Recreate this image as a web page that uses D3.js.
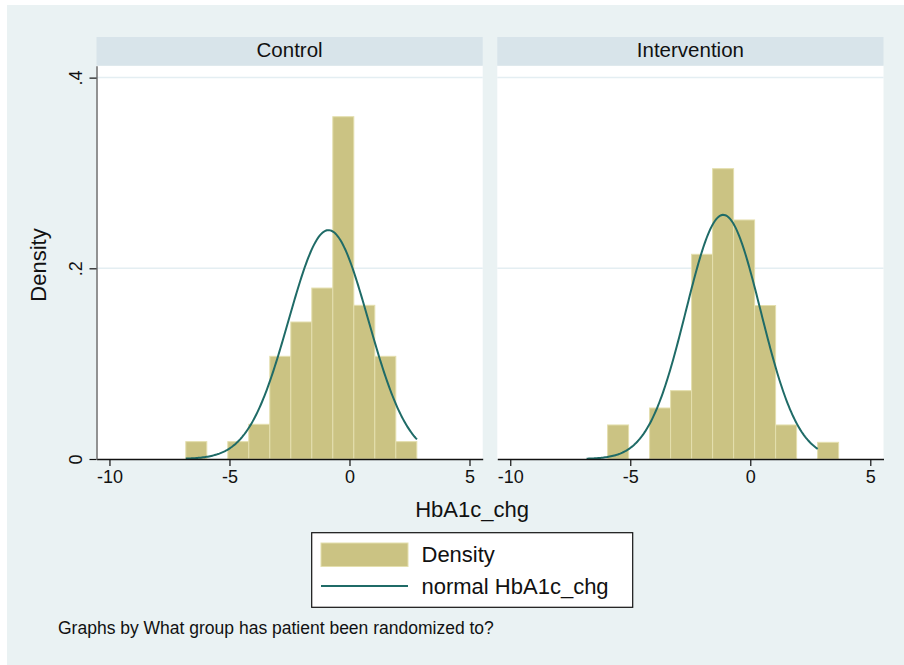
<!DOCTYPE html>
<html>
<head>
<meta charset="utf-8">
<script src="https://cdn.jsdelivr.net/npm/d3@7"></script>
<style>
  body { margin: 0; padding: 0; background: #ffffff; }
  svg { display: block; font-family: "Liberation Sans", Arial, Helvetica, sans-serif; }
</style>
</head>
<body>
<svg id="chart" width="904" height="665"></svg>
<script>
// ---- Data ----
const categories = ["Control", "Intervention"];
const binEdges = [-6.820, -5.945, -5.070, -4.195, -3.320, -2.445, -1.570, -0.695, 0.180, 1.055, 1.930, 2.805, 3.680];
const controlDensity      = [0.0182, 0, 0.0182, 0.0364, 0.1077, 0.1437, 0.1793, 0.3590, 0.1612, 0.1077, 0.0182, 0];
const interventionDensity = [0, 0.0357, 0, 0.0535, 0.0717, 0.2147, 0.3045, 0.2507, 0.1610, 0.0357, 0, 0.0175];
const normalMean = [-0.875, -1.125];
const normalSD   = [1.662, 1.558];
const curveRange = [-6.82, 2.81];
const xTicks = [-10, -5, 0, 5];
const yTicks = [0, 0.2, 0.4];
const yTickLabels = ["0", ".2", ".4"];
const legendLabels = ["Density", "normal HbA1c_chg"];
const xTitle = "HbA1c_chg";
const yTitle = "Density";
const note = "Graphs by What group has patient been randomized to?";

const densities = [controlDensity, interventionDensity];

// ---- Style / layout ----
const bgColor = "#eaf2f3";
const stripColor = "#d8e4ea";
const barFill = "#cbc383";
const barStroke = "#e4dfae";
const lineColor = "#1f6b67";
const gridColor = "#e4eef2";

const svg = d3.select("#chart");
svg.append("rect").attr("x", 7).attr("y", 5).attr("width", 897).attr("height", 660).attr("fill", bgColor);

const panelLeft = [96.5, 497.3];
const panelW = 386.2;
const plotTop = 65.7;
const plotBottom = 459;
const stripTop = 37;

const x = d3.scaleLinear().domain([-10.54, 5.55]).range([0, panelW]);
const y = d3.scaleLinear().domain([0, 0.4125]).range([plotBottom - plotTop, 0]);

const normalPdf = (v, m, s) => Math.exp(-0.5 * ((v - m) / s) ** 2) / (s * Math.sqrt(2 * Math.PI));

categories.forEach((cat, i) => {
  const g = svg.append("g").attr("transform", `translate(${panelLeft[i]},${plotTop})`);
  // strip
  svg.append("rect").attr("x", panelLeft[i]).attr("y", stripTop).attr("width", panelW)
     .attr("height", plotTop - stripTop).attr("fill", stripColor);
  svg.append("text").attr("x", panelLeft[i] + panelW / 2).attr("y", 57)
     .attr("text-anchor", "middle").attr("font-size", 20.5).attr("fill", "#111").text(cat);
  // plot area
  g.append("rect").attr("x", 0).attr("y", 0).attr("width", panelW).attr("height", plotBottom - plotTop).attr("fill", "#ffffff");
  // gridlines
  g.selectAll(".grid").data(yTicks.filter(t => t > 0)).enter().append("line")
    .attr("x1", 0).attr("x2", panelW).attr("y1", d => y(d)).attr("y2", d => y(d))
    .attr("stroke", gridColor).attr("stroke-width", 1.5);
  // bars
  const bins = densities[i].map((d, k) => ({ x0: binEdges[k], x1: binEdges[k + 1], d }));
  g.selectAll(".bar").data(bins.filter(b => b.d > 0)).enter().append("rect")
    .attr("x", b => x(b.x0)).attr("width", b => x(b.x1) - x(b.x0))
    .attr("y", b => y(b.d)).attr("height", b => y(0) - y(b.d))
    .attr("fill", barFill).attr("stroke", barStroke).attr("stroke-width", 1);
  // normal curve
  const pts = d3.range(0, 201).map(k => {
    const v = curveRange[0] + (curveRange[1] - curveRange[0]) * k / 200;
    return [v, normalPdf(v, normalMean[i], normalSD[i])];
  });
  g.append("path").datum(pts)
    .attr("d", d3.line().x(p => x(p[0])).y(p => y(p[1])))
    .attr("fill", "none").attr("stroke", lineColor).attr("stroke-width", 2);
  // x axis
  const xa = g.append("g").attr("transform", `translate(0,${plotBottom - plotTop})`)
    .call(d3.axisBottom(x).tickValues(xTicks).tickSize(7).tickSizeOuter(0).tickPadding(4).tickFormat(d3.format("d")));
  xa.select(".domain").attr("stroke", "#111").attr("stroke-width", 1.3);
  xa.selectAll(".tick line").attr("stroke", "#111").attr("stroke-width", 1.2);
  xa.selectAll(".tick text").attr("font-size", 18).attr("fill", "#111")
    .attr("font-family", "'Liberation Sans', Arial, sans-serif")
    .text(d => d < 0 ? "-" + Math.abs(d) : d);
  // y axis (left panel only)
  if (i === 0) {
    const ya = g.append("g")
      .call(d3.axisLeft(y).tickValues(yTicks).tickSize(7).tickSizeOuter(0).tickFormat((d, k) => yTickLabels[k]));
    ya.select(".domain").attr("stroke", "#6e6e6e").attr("stroke-width", 1.5);
    ya.selectAll(".tick line").attr("stroke", "#111").attr("stroke-width", 1.2);
    ya.selectAll(".tick text").attr("font-size", 18).attr("fill", "#111")
      .attr("font-family", "'Liberation Sans', Arial, sans-serif")
      .attr("text-anchor", "middle").attr("dy", null).attr("x", null)
      .attr("transform", "translate(-15,0) rotate(-90)");
  }
});

// axis titles
svg.append("text").attr("x", 472).attr("y", 517).attr("text-anchor", "middle")
  .attr("font-size", 22).attr("fill", "#111").text(xTitle);
svg.append("text").attr("transform", "translate(46,265) rotate(-90)").attr("text-anchor", "middle")
  .attr("font-size", 22).attr("fill", "#111").text(yTitle);

// legend
const lg = svg.append("g");
lg.append("rect").attr("x", 311.7).attr("y", 532.7).attr("width", 321).attr("height", 74.6)
  .attr("fill", "#ffffff").attr("stroke", "#111").attr("stroke-width", 1.2);
lg.append("rect").attr("x", 321).attr("y", 543).attr("width", 87).attr("height", 23.5)
  .attr("fill", barFill).attr("stroke", barStroke).attr("stroke-width", 1);
lg.append("line").attr("x1", 321).attr("x2", 408).attr("y1", 586).attr("y2", 586)
  .attr("stroke", lineColor).attr("stroke-width", 2);
lg.selectAll(".lt").data(legendLabels).enter().append("text")
  .attr("x", 421.5).attr("y", (d, k) => [562, 593.5][k])
  .attr("font-size", 22).attr("fill", "#111").text(d => d);

// note
svg.append("text").attr("x", 58).attr("y", 634).attr("font-size", 17.5).attr("fill", "#111").text(note);
</script>
</body>
</html>
